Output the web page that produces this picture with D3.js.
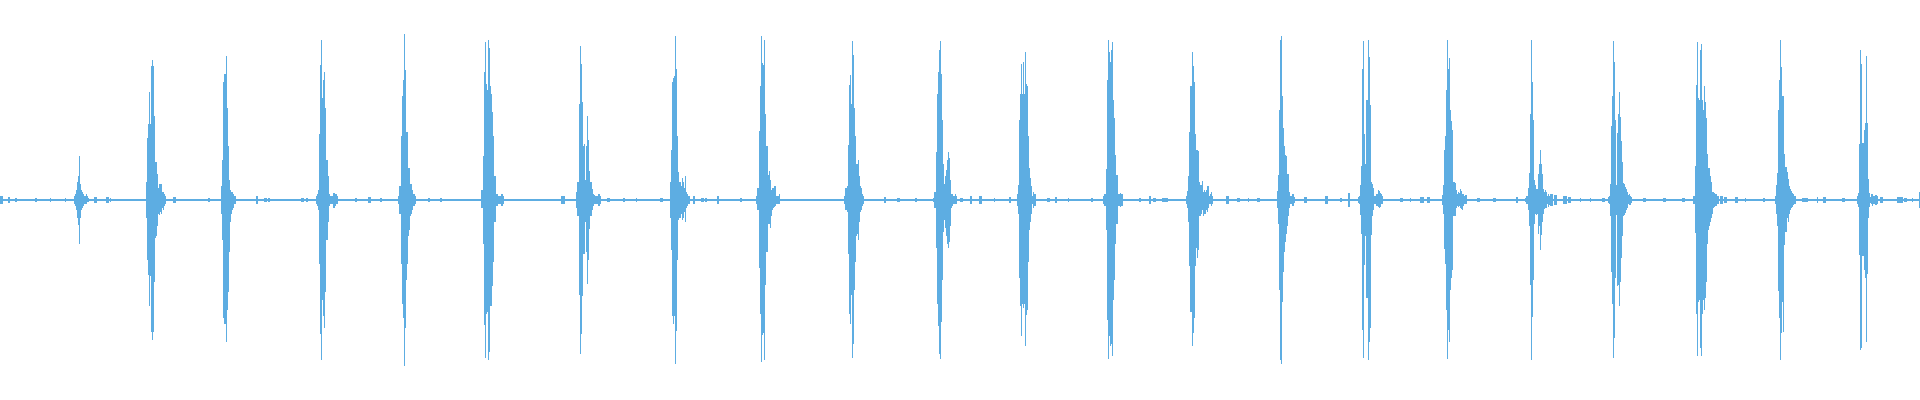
<!DOCTYPE html>
<html>
<head>
<meta charset="utf-8">
<script src="https://cdn.jsdelivr.net/npm/d3@7"></script>
<style>
  html, body { margin: 0; padding: 0; background: #fff; overflow: hidden; }
  svg { display: block; }
</style>
</head>
<body>
<svg id="wave"></svg>
<script>
// Waveform peaks, one value per pixel column (amplitude -1..1).
// Each burst: first column, then the max and min of every column after it.
const burstStart = [74, 146, 221, 316, 398, 481, 576, 670, 756, 844, 933,
  1017, 1103, 1186, 1277, 1358, 1442, 1525, 1608, 1693, 1775, 1857];

const burstTop = [
  [0.02, 0.03, 0.05, 0.09, 0.12, 0.22, 0.08, 0.05, 0.04, 0.03, 0.02, 0.02, 0.03, 0.02, 0.01],
  [0.09, 0.31, 0.38, 0.54, 0.38, 0.67, 0.70, 0.67, 0.42, 0.19, 0.19, 0.13, 0.06, 0.08, 0.08, 0.08, 0.04, 0.04, 0.03, 0.02],
  [0.07, 0.20, 0.59, 0.63, 0.63, 0.72, 0.46, 0.27, 0.10, 0.05, 0.04, 0.04, 0.03, 0.02, 0.02],
  [0.02, 0.03, 0.05, 0.33, 0.675, 0.80, 0.51, 0.60, 0.64, 0.46, 0.20, 0.20, 0.12, 0.03, 0.02, 0.02, 0.02, 0.035, 0.035, 0.03, 0.03, 0.02],
  [0.02, 0.07, 0.07, 0.32, 0.52, 0.60, 0.83, 0.65, 0.34, 0.34, 0.16, 0.16, 0.08, 0.08, 0.05, 0.03, 0.03, 0.02],
  [0.05, 0.05, 0.22, 0.64, 0.79, 0.58, 0.55, 0.80, 0.76, 0.57, 0.53, 0.44, 0.32, 0.12, 0.12, 0.03, 0.03, 0.02, 0.02, 0.02, 0.03, 0.03, 0.02],
  [0.04, 0.09, 0.09, 0.48, 0.77, 0.68, 0.49, 0.27, 0.28, 0.10, 0.27, 0.42, 0.30, 0.145, 0.09, 0.09, 0.055, 0.03, 0.025, 0.02, 0.02, 0.02, 0.03, 0.03, 0.02],
  [0.09, 0.25, 0.59, 0.61, 0.62, 0.82, 0.655, 0.32, 0.14, 0.09, 0.09, 0.07, 0.11, 0.09, 0.06, 0.12, 0.04, 0.03, 0.02, 0.02],
  [0.02, 0.06, 0.06, 0.345, 0.57, 0.82, 0.685, 0.675, 0.80, 0.43, 0.27, 0.27, 0.125, 0.145, 0.10, 0.05, 0.06, 0.06, 0.07, 0.07, 0.02, 0.02, 0.02, 0.03],
  [0.02, 0.06, 0.06, 0.07, 0.275, 0.575, 0.625, 0.48, 0.795, 0.725, 0.46, 0.32, 0.18, 0.18, 0.20, 0.12, 0.07, 0.06, 0.03, 0.02],
  [0.01, 0.04, 0.04, 0.24, 0.53, 0.64, 0.75, 0.795, 0.63, 0.40, 0.18, 0.08, 0.12, 0.15, 0.20, 0.24, 0.21, 0.10, 0.03, 0.03, 0.02, 0.02, 0.03, 0.02],
  [0.03, 0.075, 0.40, 0.53, 0.68, 0.53, 0.69, 0.53, 0.74, 0.58, 0.57, 0.32, 0.16, 0.11, 0.07, 0.02, 0.04, 0.03, 0.03],
  [0.02, 0.03, 0.03, 0.155, 0.60, 0.80, 0.74, 0.69, 0.75, 0.79, 0.50, 0.41, 0.225, 0.125, 0.125, 0.03, 0.03, 0.035, 0.03, 0.03],
  [0.02, 0.045, 0.12, 0.34, 0.57, 0.57, 0.74, 0.67, 0.59, 0.33, 0.25, 0.25, 0.245, 0.09, 0.075, 0.075, 0.095, 0.04, 0.05, 0.04, 0.05, 0.07, 0.07, 0.02, 0.03, 0.04, 0.02],
  [0.045, 0.125, 0.45, 0.80, 0.82, 0.52, 0.36, 0.27, 0.225, 0.22, 0.13, 0.13, 0.04, 0.02, 0.02, 0.03, 0.03, 0.015],
  [0.015, 0.02, 0.075, 0.17, 0.655, 0.795, 0.33, 0.18, 0.50, 0.50, 0.80, 0.715, 0.475, 0.09, 0.08, 0.06, 0.02, 0.02, 0.03, 0.03, 0.05, 0.045, 0.035, 0.03, 0.02],
  [0.025, 0.075, 0.25, 0.32, 0.55, 0.80, 0.655, 0.71, 0.45, 0.395, 0.35, 0.09, 0.09, 0.085, 0.05, 0.03, 0.04, 0.035, 0.055, 0.045, 0.03, 0.03, 0.02, 0.025, 0.025],
  [0.01, 0.02, 0.02, 0.06, 0.135, 0.43, 0.80, 0.59, 0.40, 0.10, 0.075, 0.055, 0.055, 0.13, 0.18, 0.25, 0.18, 0.13, 0.055, 0.04, 0.05, 0.04, 0.02, 0.03, 0.02],
  [0.015, 0.02, 0.08, 0.37, 0.52, 0.795, 0.69, 0.40, 0.075, 0.335, 0.43, 0.54, 0.415, 0.295, 0.19, 0.085, 0.08, 0.065, 0.055, 0.04, 0.025, 0.03, 0.02, 0.015],
  [0.02, 0.02, 0.17, 0.575, 0.79, 0.51, 0.50, 0.75, 0.78, 0.50, 0.45, 0.57, 0.49, 0.41, 0.23, 0.16, 0.16, 0.12, 0.09, 0.04, 0.04, 0.035, 0.03, 0.03, 0.02, 0.02],
  [0.02, 0.075, 0.135, 0.45, 0.60, 0.80, 0.665, 0.52, 0.52, 0.23, 0.165, 0.165, 0.14, 0.105, 0.07, 0.055, 0.045, 0.035, 0.03, 0.02, 0.02],
  [0.02, 0.035, 0.28, 0.75, 0.68, 0.285, 0.285, 0.35, 0.385, 0.72, 0.385, 0.105, 0.035, 0.015, 0.03, 0.03, 0.02, 0.02, 0.025, 0.025, 0.02]
];

const burstBottom = [
  [-0.02, -0.03, -0.05, -0.09, -0.125, -0.22, -0.09, -0.05, -0.04, -0.03, -0.02, -0.02, -0.02, -0.01, -0.01],
  [-0.09, -0.30, -0.375, -0.53, -0.38, -0.66, -0.70, -0.66, -0.41, -0.19, -0.18, -0.13, -0.07, -0.075, -0.06, -0.07, -0.04, -0.05, -0.03, -0.02],
  [-0.07, -0.20, -0.59, -0.62, -0.62, -0.71, -0.55, -0.46, -0.26, -0.11, -0.07, -0.05, -0.04, -0.02, -0.02],
  [-0.02, -0.03, -0.05, -0.32, -0.67, -0.80, -0.50, -0.58, -0.64, -0.46, -0.20, -0.20, -0.11, -0.03, -0.02, -0.02, -0.02, -0.04, -0.04, -0.03, -0.02, -0.02],
  [-0.02, -0.07, -0.07, -0.32, -0.52, -0.59, -0.83, -0.64, -0.40, -0.32, -0.18, -0.15, -0.08, -0.07, -0.05, -0.03, -0.03, -0.02],
  [-0.04, -0.04, -0.22, -0.625, -0.79, -0.57, -0.56, -0.80, -0.76, -0.53, -0.53, -0.43, -0.31, -0.11, -0.11, -0.03, -0.03, -0.02, -0.02, -0.02, -0.03, -0.03, -0.02],
  [-0.04, -0.08, -0.08, -0.475, -0.77, -0.67, -0.48, -0.27, -0.27, -0.11, -0.26, -0.42, -0.30, -0.145, -0.08, -0.08, -0.05, -0.03, -0.02, -0.02, -0.02, -0.02, -0.03, -0.03, -0.02],
  [-0.09, -0.25, -0.58, -0.62, -0.58, -0.82, -0.655, -0.30, -0.10, -0.09, -0.09, -0.07, -0.10, -0.09, -0.06, -0.11, -0.04, -0.03, -0.02, -0.02],
  [-0.02, -0.05, -0.05, -0.34, -0.57, -0.81, -0.675, -0.665, -0.80, -0.425, -0.26, -0.26, -0.12, -0.12, -0.14, -0.08, -0.05, -0.04, -0.035, -0.03, -0.02, -0.02, -0.02, -0.02],
  [-0.02, -0.05, -0.05, -0.06, -0.27, -0.57, -0.62, -0.475, -0.79, -0.72, -0.45, -0.31, -0.18, -0.17, -0.20, -0.11, -0.06, -0.05, -0.03, -0.02],
  [-0.01, -0.04, -0.04, -0.24, -0.52, -0.63, -0.77, -0.795, -0.61, -0.40, -0.16, -0.10, -0.14, -0.18, -0.22, -0.24, -0.21, -0.13, -0.04, -0.03, -0.02, -0.02, -0.02, -0.02],
  [-0.03, -0.07, -0.39, -0.53, -0.68, -0.52, -0.54, -0.52, -0.73, -0.575, -0.55, -0.31, -0.15, -0.11, -0.07, -0.02, -0.04, -0.03, -0.03],
  [-0.02, -0.03, -0.03, -0.15, -0.60, -0.795, -0.68, -0.73, -0.72, -0.78, -0.50, -0.40, -0.22, -0.12, -0.12, -0.03, -0.03, -0.035, -0.03, -0.03],
  [-0.02, -0.04, -0.11, -0.33, -0.56, -0.56, -0.73, -0.665, -0.59, -0.33, -0.24, -0.29, -0.25, -0.08, -0.08, -0.07, -0.05, -0.08, -0.07, -0.07, -0.05, -0.06, -0.04, -0.02, -0.02, -0.03, -0.02],
  [-0.04, -0.12, -0.45, -0.80, -0.82, -0.51, -0.36, -0.26, -0.21, -0.17, -0.13, -0.08, -0.04, -0.02, -0.02, -0.03, -0.03, -0.015],
  [-0.015, -0.02, -0.075, -0.17, -0.65, -0.79, -0.325, -0.18, -0.49, -0.49, -0.80, -0.71, -0.64, -0.175, -0.08, -0.05, -0.02, -0.02, -0.03, -0.03, -0.035, -0.04, -0.035, -0.02, -0.02],
  [-0.025, -0.07, -0.245, -0.32, -0.55, -0.795, -0.65, -0.71, -0.45, -0.39, -0.35, -0.08, -0.08, -0.08, -0.04, -0.03, -0.035, -0.03, -0.04, -0.045, -0.05, -0.03, -0.02, -0.02, -0.02],
  [-0.01, -0.02, -0.02, -0.05, -0.13, -0.425, -0.80, -0.585, -0.40, -0.12, -0.07, -0.075, -0.07, -0.17, -0.13, -0.25, -0.175, -0.11, -0.07, -0.045, -0.04, -0.04, -0.02, -0.035, -0.025],
  [-0.015, -0.02, -0.08, -0.36, -0.52, -0.79, -0.69, -0.39, -0.075, -0.43, -0.425, -0.53, -0.41, -0.29, -0.18, -0.08, -0.075, -0.065, -0.05, -0.04, -0.02, -0.025, -0.025, -0.015],
  [-0.02, -0.02, -0.165, -0.57, -0.78, -0.51, -0.50, -0.74, -0.78, -0.57, -0.50, -0.55, -0.49, -0.41, -0.22, -0.15, -0.13, -0.11, -0.09, -0.07, -0.04, -0.035, -0.03, -0.03, -0.02, -0.02],
  [-0.02, -0.07, -0.13, -0.455, -0.59, -0.80, -0.665, -0.51, -0.66, -0.225, -0.16, -0.16, -0.09, -0.11, -0.07, -0.05, -0.04, -0.035, -0.025, -0.02, -0.02],
  [-0.02, -0.035, -0.275, -0.75, -0.74, -0.28, -0.28, -0.35, -0.39, -0.71, -0.37, -0.09, -0.035, -0.015, -0.02, -0.03, -0.02, -0.02, -0.025, -0.025, -0.02]
];

// small noise dashes between the bursts: first column, width in columns, amplitude
const blipCols = [0, 8, 15, 35, 50, 65, 94, 106, 110, 173, 208, 256, 264, 268, 301, 306,
  355, 368, 380, 428, 440, 561, 607, 623, 636, 660, 693, 701, 705, 717, 740,
  884, 897, 915, 960, 970, 979, 994, 1009, 1047, 1055, 1068, 1091, 1139, 1149,
  1153, 1162, 1226, 1237, 1248, 1257, 1304, 1325, 1340, 1348, 1400, 1410, 1420,
  1427, 1477, 1493, 1516, 1550, 1554, 1563, 1568, 1580, 1590, 1602, 1643, 1663,
  1682, 1720, 1724, 1735, 1745, 1763, 1802, 1817, 1823, 1842, 1880, 1897, 1904, 1912, 1919];
const blipWidths = [3, 2, 2, 2, 1, 1, 3, 3, 1, 3, 2, 2, 3, 2, 3, 2,
  2, 3, 2, 2, 2, 4, 3, 2, 1, 3, 2, 3, 2, 2, 2,
  2, 3, 2, 3, 2, 3, 1, 2, 3, 2, 1, 2, 2, 2,
  3, 6, 3, 3, 1, 3, 3, 3, 2, 2, 3, 1, 4,
  3, 3, 3, 2, 3, 3, 4, 3, 1, 1, 3, 3, 3,
  3, 3, 3, 3, 1, 2, 6, 1, 3, 3, 3, 6, 3, 1, 1];
const blipAmps = [0.018, 0.015, 0.012, 0.012, 0.012, 0.012, 0.015, 0.015, 0.012, 0.015, 0.012, 0.018, 0.012, 0.012, 0.012, 0.012,
  0.012, 0.015, 0.012, 0.012, 0.012, 0.018, 0.012, 0.012, 0.012, 0.012, 0.02, 0.012, 0.012, 0.018, 0.012,
  0.015, 0.012, 0.012, 0.012, 0.018, 0.018, 0.012, 0.015, 0.012, 0.015, 0.012, 0.012, 0.012, 0.02,
  0.012, 0.012, 0.018, 0.012, 0.012, 0.012, 0.015, 0.018, 0.012, 0.035, 0.012, 0.012, 0.015,
  0.015, 0.012, 0.012, 0.015, 0.03, 0.025, 0.018, 0.015, 0.012, 0.012, 0.012, 0.012, 0.012,
  0.012, 0.02, 0.015, 0.015, 0.012, 0.012, 0.012, 0.015, 0.015, 0.012, 0.015, 0.015, 0.012, 0.012, 0.04];

const floorAmp = 0.006; // the flat line under everything
const nCols = 1920;

const width = 1920;
const height = 400;

const svg = d3.select('#wave')
    .attr('width', width)
    .attr('height', height);

const x = d3.scaleLinear().domain([0, nCols]).range([0, width]);
const y = d3.scaleLinear().domain([-1, 1]).range([height, 0]);

// build max/min per column
const peaks = d3.range(nCols).map(c => ({ c: c, hi: floorAmp, lo: -floorAmp }));

function raise(c, hi, lo) {
    if (c < 0 || c >= nCols) return;
    peaks[c].hi = Math.max(peaks[c].hi, hi);
    peaks[c].lo = Math.min(peaks[c].lo, lo);
}

blipCols.forEach((c, i) => {
    for (let k = 0; k < blipWidths[i]; k++) raise(c + k, blipAmps[i], -blipAmps[i]);
});

burstStart.forEach((s, b) => {
    burstTop[b].forEach((v, i) => raise(s + i, v, -floorAmp));
    burstBottom[b].forEach((v, i) => raise(s + i, floorAmp, v));
});

svg.append('g')
    .attr('fill', '#5dade2')
    .attr('shape-rendering', 'crispEdges')
  .selectAll('rect')
  .data(peaks)
  .join('rect')
    .attr('x', d => x(d.c))
    .attr('width', x(1) - x(0))
    .attr('y', d => y(d.hi))
    .attr('height', d => Math.max(1, y(d.lo) - y(d.hi)));
</script>
</body>
</html>
